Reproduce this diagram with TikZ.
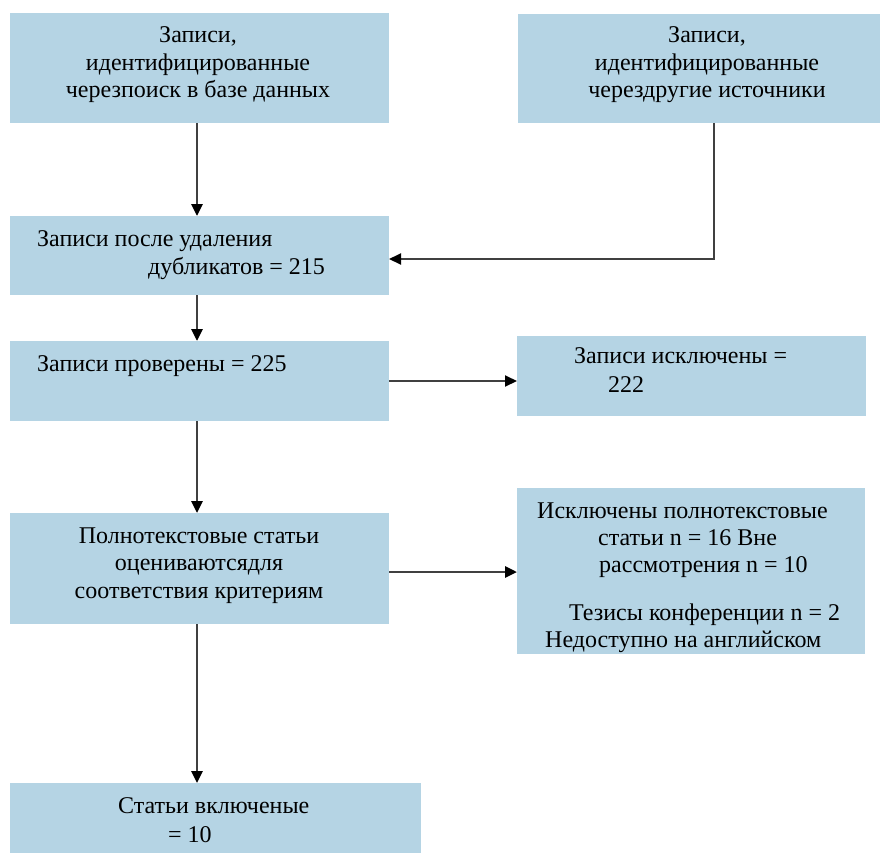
\documentclass[tikz,border=0pt]{standalone}
\usepackage{fontspec}
\setmainfont{Liberation Serif}
\usetikzlibrary{arrows.meta}
\definecolor{boxblue}{RGB}{181,212,228}
\definecolor{linegray}{RGB}{64,64,64}
\begin{document}
\begin{tikzpicture}[x=1pt,y=-1pt,
  box/.style={fill=boxblue, draw=none, inner sep=0pt, outer sep=0pt, anchor=north west},
  txt/.style={inner sep=0pt, anchor=base west, font=\fontsize{24}{27.5}\selectfont},
  ctxt/.style={inner sep=0pt, anchor=base, font=\fontsize{24}{27.5}\selectfont},
  tip/.style={-{Triangle[length=12pt,width=11pt,color=black]}},
  mainarr/.style={draw=linegray, line width=2.8pt, tip},
  sidearr/.style={draw=linegray, line width=2pt, tip}]
\useasboundingbox (0,0) rectangle (882,854);
% boxes
\node[box, minimum width=379pt, minimum height=110pt] (A) at (10,13) {};
\node[box, minimum width=362pt, minimum height=109pt] (B) at (518,14) {};
\node[box, minimum width=379pt, minimum height=79pt] (C) at (10,216) {};
\node[box, minimum width=379pt, minimum height=80pt] (D) at (10,341) {};
\node[box, minimum width=349pt, minimum height=80pt] (E) at (517,336) {};
\node[box, minimum width=379pt, minimum height=111pt] (F) at (10,513) {};
\node[box, minimum width=348pt, minimum height=166pt] (G) at (517,488) {};
\node[box, minimum width=411pt, minimum height=70pt] (H) at (10,783) {};
% texts
\node[ctxt] (a1) at (198,42) {Записи,};
\node[ctxt] (a2) at (198,70) {идентифицированные};
\node[ctxt] (a3) at (198,97) {черезпоиск в базе данных};
\node[ctxt] (b1) at (707,42) {Записи,};
\node[ctxt] (b2) at (707,70) {идентифицированные};
\node[ctxt] (b3) at (707,97) {черездругие источники};
\node[txt] (c1) at (37,246) {Записи после удаления};
\node[txt] (c2) at (148,274) {дубликатов = 215};
\node[txt] (d1) at (37,371) {Записи проверены = 225};
\node[txt] (e1) at (574,363) {Записи исключены =};
\node[txt] (e2) at (608,392) {222};
\node[ctxt] (f1) at (199,543) {Полнотекстовые статьи};
\node[ctxt] (f2) at (199,570) {оцениваютсядля};
\node[ctxt] (f3) at (199,598) {соответствия критериям};
\node[txt] (g1) at (537,518) {Исключены полнотекстовые};
\node[txt] (g2) at (598,545) {статьи n = 16 Вне};
\node[txt] (g3) at (599,572) {рассмотрения n = 10};
\node[txt] (g4) at (569,620) {Тезисы конференции n = 2};
\node[txt] (g5) at (545,647) {Недоступно на английском};
\node[txt] (h1) at (118,813) {Статьи включеные};
\node[txt] (h2) at (168,842) {= 10};
% connector helpers
\coordinate (xl) at (197,0);
\coordinate (bc) at (714,259);
\coordinate (fg) at (0,572);
% connectors
\draw[mainarr] (A.south -| xl) -- (C.north -| xl);
\draw[sidearr] (B.south -| bc) |- (C.east |- bc);
\draw[mainarr] (C.south -| xl) -- (D.north -| xl);
\draw[sidearr] (D.east) -- (E.west |- D.east);
\draw[mainarr] (D.south -| xl) -- (F.north -| xl);
\draw[mainarr] (F.east |- fg) -- (G.west |- fg);
\draw[mainarr] (F.south -| xl) -- (H.north -| xl);
\end{tikzpicture}
\end{document}
